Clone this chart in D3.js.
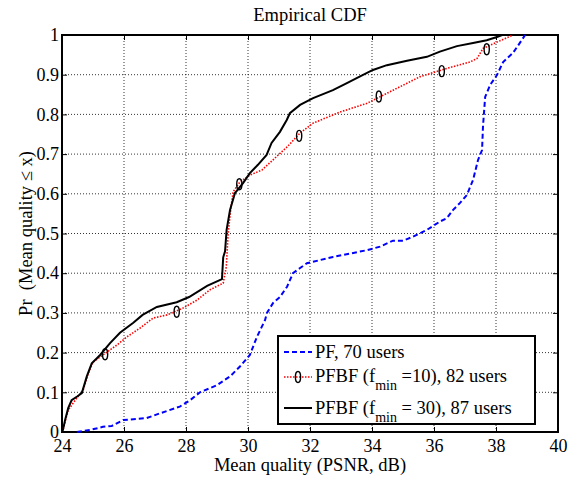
<!DOCTYPE html>
<html>
<head>
<meta charset="utf-8">
<script src="https://cdn.jsdelivr.net/npm/d3@7"></script>
<style>
  body { margin: 0; background: #fff; }
  svg { display: block; }
  svg text { font-family: "Liberation Serif", "Times New Roman", Times, serif !important; white-space: pre; }
</style>
</head>
<body>
<svg id="chart" width="574" height="477"></svg>
<script>
// ---- data ----
const xTicks = [24, 26, 28, 30, 32, 34, 36, 38, 40];
const yTicks = [0, 0.1, 0.2, 0.3, 0.4, 0.5, 0.6, 0.7, 0.8, 0.9, 1];
const yTickLabels = ['0', '0.1', '0.2', '0.3', '0.4', '0.5', '0.6', '0.7', '0.8', '0.9', '1'];

// PF, 70 users
const pfX = [24.48, 24.9, 25.32, 25.6, 25.97, 26.73, 27.16, 27.8, 28.13, 28.45, 29.0, 29.42, 29.74, 30.06,
    30.29, 30.55, 30.61, 30.81, 31.03, 31.26, 31.45, 31.68, 31.9, 32.74, 33.84, 34.26, 34.68, 35.0, 35.32,
    35.77, 36.19, 36.42, 36.61, 36.84, 37.06, 37.26, 37.42, 37.55, 37.58, 37.65, 37.81, 38.03, 38.23,
    38.55, 38.77, 38.94];
const pfY = [0, 0.005, 0.013, 0.015, 0.03, 0.035, 0.047, 0.064, 0.08, 0.1, 0.118, 0.14, 0.165, 0.194,
    0.24, 0.282, 0.3, 0.325, 0.34, 0.366, 0.4, 0.413, 0.425, 0.441, 0.458, 0.467, 0.482, 0.482, 0.492,
    0.509, 0.53, 0.539, 0.559, 0.577, 0.597, 0.635, 0.685, 0.71, 0.769, 0.844, 0.874, 0.899, 0.932,
    0.955, 0.98, 1.0];

// PFBF (fmin = 10), 82 users
const pfbf10X = [24.0, 24.03, 24.2, 24.47, 24.68, 24.85, 25.0, 25.32, 25.77, 26.1, 26.52, 26.94, 27.39, 27.9,
    28.35, 28.77, 29.2, 29.3, 29.36, 29.45, 29.52, 29.74, 30.06, 30.45, 30.8, 31.26, 31.68, 32.1, 32.97,
    33.84, 34.68, 35.55, 36.42, 37.16, 37.39, 37.58, 38.03, 38.55];
const pfbf10Y = [0, 0.005, 0.055, 0.085, 0.105, 0.148, 0.176, 0.194, 0.219, 0.24, 0.262, 0.287, 0.295, 0.312,
    0.332, 0.358, 0.375, 0.416, 0.5, 0.565, 0.605, 0.63, 0.647, 0.66, 0.685, 0.718, 0.753, 0.778, 0.806,
    0.828, 0.861, 0.895, 0.916, 0.932, 0.941, 0.966, 0.982, 1.0];
const markerX = [25.39, 27.7, 29.72, 31.65, 34.22, 36.25, 37.7];
const markerY = [0.196, 0.303, 0.624, 0.746, 0.845, 0.909, 0.964];

// PFBF (fmin = 30), 87 users
const pfbf30X = [24.0, 24.03, 24.1, 24.2, 24.31, 24.5, 24.64, 24.8, 24.96, 25.23, 25.55, 25.87, 26.3, 26.6,
    27.06, 27.7, 28.1, 28.68, 29.16, 29.2, 29.26, 29.31, 29.42, 29.58, 29.84, 30.06, 30.32, 30.6, 30.76,
    31.03, 31.25, 31.35, 31.68, 32.1, 32.74, 33.19, 33.6, 34.03, 34.48, 35.13, 35.77, 36.19, 36.74,
    37.26, 37.7, 38.03, 38.2];
const pfbf30Y = [0, 0.005, 0.03, 0.06, 0.08, 0.09, 0.098, 0.14, 0.173, 0.194, 0.224, 0.25, 0.275, 0.295,
    0.315, 0.327, 0.34, 0.368, 0.385, 0.44, 0.455, 0.509, 0.559, 0.602, 0.627, 0.652, 0.673, 0.698, 0.728,
    0.756, 0.786, 0.803, 0.824, 0.841, 0.861, 0.879, 0.895, 0.912, 0.924, 0.935, 0.945, 0.958, 0.972,
    0.98, 0.987, 0.995, 1.0];

/**
 * margins of the axes box inside the svg
 */
const margin = { top: 35, right: 16, bottom: 45, left: 62 };
const W = 574, H = 477;
const plotW = W - margin.left - margin.right;
const plotH = H - margin.top - margin.bottom;

const svg = d3.select('#chart');
const g = svg.append('g').attr('transform', `translate(${margin.left},${margin.top})`);

const x = d3.scaleLinear().domain([24, 40]).range([0, plotW]);
const y = d3.scaleLinear().domain([0, 1]).range([plotH, 0]);

// dotted grid
g.append('g').selectAll('line').data(xTicks.slice(1, -1)).enter().append('line')
    .attr('x1', d => x(d)).attr('x2', d => x(d)).attr('y1', 0).attr('y2', plotH)
    .attr('stroke', '#000').attr('stroke-width', 0.8).attr('stroke-dasharray', '1,2');
g.append('g').selectAll('line').data(yTicks.slice(1, -1)).enter().append('line')
    .attr('y1', d => y(d)).attr('y2', d => y(d)).attr('x1', 0).attr('x2', plotW)
    .attr('stroke', '#000').attr('stroke-width', 0.8).attr('stroke-dasharray', '1,2');

// axes, ticks pointing inward on all four sides
const fontSize = 18;
const xAxis = g.append('g').attr('transform', `translate(0,${plotH})`)
    .call(d3.axisBottom(x).tickValues(xTicks).tickSizeInner(-5).tickSizeOuter(0).tickPadding(7));
const xAxisTop = g.append('g')
    .call(d3.axisTop(x).tickValues(xTicks).tickSizeInner(-5).tickSizeOuter(0).tickFormat(''));
const yAxis = g.append('g')
    .call(d3.axisLeft(y).tickValues(yTicks).tickSizeInner(-5).tickSizeOuter(0).tickPadding(3)
        .tickFormat((d, i) => yTickLabels[i]));
const yAxisRight = g.append('g').attr('transform', `translate(${plotW},0)`)
    .call(d3.axisRight(y).tickValues(yTicks).tickSizeInner(-5).tickSizeOuter(0).tickFormat(''));
[xAxis, xAxisTop, yAxis, yAxisRight].forEach(function(a){
    a.attr('font-family', null);
    a.select('.domain').remove();
    a.selectAll('line').attr('stroke', '#000').attr('stroke-width', 1);
    a.selectAll('text').attr('font-size', fontSize).attr('fill', '#000');
});
g.append('rect').attr('width', plotW).attr('height', plotH)
    .attr('fill', 'none').attr('stroke', '#000').attr('stroke-width', 2);

// curves
const line = d3.line().x(d => x(d[0])).y(d => y(d[1]));
const zip = (a, b) => a.map((v, i) => [v, b[i]]);

g.append('path').datum(zip(pfX, pfY)).attr('d', line)
    .attr('fill', 'none').attr('stroke', '#0000ff').attr('stroke-width', 2).attr('stroke-dasharray', '5,3');
g.append('path').datum(zip(pfbf10X, pfbf10Y)).attr('d', line)
    .attr('fill', 'none').attr('stroke', '#ff0000').attr('stroke-width', 1.6).attr('stroke-dasharray', '1.5,1.5');
g.append('path').datum(zip(pfbf30X, pfbf30Y)).attr('d', line)
    .attr('fill', 'none').attr('stroke', '#000').attr('stroke-width', 2);

g.append('g').selectAll('ellipse').data(zip(markerX, markerY)).enter().append('ellipse')
    .attr('cx', d => x(d[0])).attr('cy', d => y(d[1])).attr('rx', 2.6).attr('ry', 5.5)
    .attr('fill', 'none').attr('stroke', '#000').attr('stroke-width', 1.4);

// title and axis labels
svg.append('text').attr('x', margin.left + plotW / 2).attr('y', 21).attr('text-anchor', 'middle')
    .attr('font-size', 18.5).text('Empirical CDF');
svg.append('text').attr('x', margin.left + plotW / 2).attr('y', 471).attr('text-anchor', 'middle')
    .attr('font-size', 18.5).text('Mean quality (PSNR, dB)');
svg.append('text').attr('transform', `translate(32,${margin.top + plotH / 2}) rotate(-90)`)
    .attr('text-anchor', 'middle').attr('font-size', 18.5).text('Pr  (Mean quality \u2264 x)');

// legend
const legend = svg.append('g').attr('transform', 'translate(278,336)');
legend.append('rect').attr('width', 257).attr('height', 88)
    .attr('fill', '#fff').attr('stroke', '#000').attr('stroke-width', 2);
const rows = [
    { y: 16, color: '#0000ff', dash: '5,3', width: 2 },
    { y: 41, color: '#ff0000', dash: '1.5,1.5', width: 1.6, marker: true },
    { y: 72, color: '#000', dash: null, width: 2 }
];
rows.forEach(function(r){
    legend.append('line').attr('x1', 6).attr('x2', 34).attr('y1', r.y).attr('y2', r.y)
        .attr('stroke', r.color).attr('stroke-width', r.width).attr('stroke-dasharray', r.dash);
    if(r.marker){
        legend.append('ellipse').attr('cx', 20).attr('cy', r.y).attr('rx', 2.6).attr('ry', 5.5)
            .attr('fill', 'none').attr('stroke', '#000').attr('stroke-width', 1.4);
    }
});
legend.append('text').attr('x', 37).attr('y', 22).attr('font-size', 18.5).text('PF, 70 users');
const t2 = legend.append('text').attr('x', 37).attr('y', 46).attr('font-size', 18.5);
t2.append('tspan').text('PFBF (f');
t2.append('tspan').attr('dy', 8).attr('font-size', 14).text('min');
t2.append('tspan').attr('dy', -8).text(' =10), 82 users');
const t3 = legend.append('text').attr('x', 37).attr('y', 78).attr('font-size', 18.5);
t3.append('tspan').text('PFBF (f');
t3.append('tspan').attr('dy', 8).attr('font-size', 14).text('min');
t3.append('tspan').attr('dy', -8).text(' = 30), 87 users');
</script>
</body>
</html>
